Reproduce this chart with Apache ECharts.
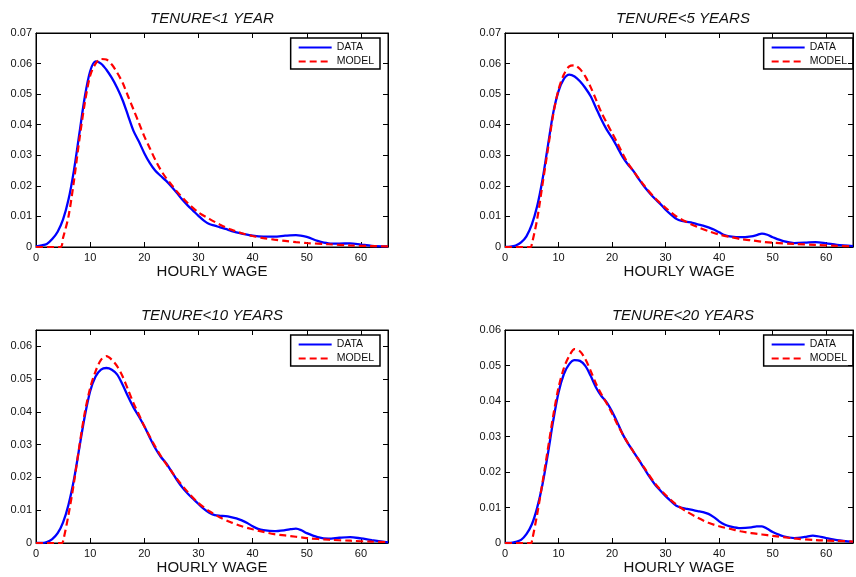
<!DOCTYPE html>
<html>
<head>
<meta charset="utf-8">
<script src="https://cdn.jsdelivr.net/npm/echarts@6/dist/echarts.min.js"></script>
<style>
  html, body { margin: 0; padding: 0; background: #fff; }
  #chart { width: 856px; height: 577px; }
</style>
</head>
<body>
<div id="chart"></div>
<script>
// panel titles
const titles = ['TENURE<1 YEAR', 'TENURE<5 YEARS', 'TENURE<10 YEARS', 'TENURE<20 YEARS'];
const yMax = [0.07, 0.07, 0.065, 0.06];

// [hourly wage, density]
const data1 = [[0,0.0002],[1,0.0005],[2,0.001],[3,0.0026],[4,0.005],[5,0.009],[6,0.0155],[7,0.025],[8,0.037],[9,0.049],[10,0.0575],[11,0.0607],[12,0.060],[13,0.058],[14,0.0553],[15,0.052],[16,0.048],[17,0.043],[18,0.038],[19,0.0345],[20,0.0307],[21,0.0275],[22,0.025],[23,0.0233],[24,0.0217],[25,0.0198],[26,0.0177],[27,0.0155],[28,0.0136],[29,0.0119],[30,0.0102],[31,0.0086],[32,0.0075],[33,0.007],[34,0.0064],[35,0.0059],[36,0.0053],[37,0.0048],[38,0.0044],[40,0.0037],[42,0.0034],[44,0.0034],[46,0.0037],[48,0.0039],[50,0.0033],[52,0.002],[54,0.0012],[56,0.0011],[58,0.0012],[60,0.0008],[62,0.0004],[65,0.0002]];
const model1 = [[0,0],[4.5,0],[5,0.003],[6,0.010],[7,0.0215],[8,0.035],[9,0.047],[10,0.056],[11,0.060],[12,0.0615],[13,0.0613],[14,0.0597],[15,0.057],[16,0.0537],[17,0.0493],[18,0.045],[19,0.0406],[20,0.0362],[21,0.0324],[22,0.0286],[23,0.0253],[24,0.0226],[25,0.0204],[26,0.0182],[28,0.0144],[30,0.0113],[32,0.0092],[34,0.0073],[36,0.0057],[38,0.0045],[40,0.0036],[42,0.0029],[44,0.0024],[46,0.002],[48,0.0016],[50,0.0013],[54,0.0009],[58,0.0005],[62,0.0003],[65,0.0002]];

const data2 = [[0,0],[1,0.0001],[2,0.0005],[3,0.0015],[4,0.0035],[5,0.0073],[6,0.0133],[7,0.022],[8,0.033],[9,0.0438],[10,0.051],[11,0.055],[12,0.0564],[13,0.0558],[14,0.0542],[15,0.052],[16,0.0493],[17,0.0455],[18,0.0417],[19,0.0384],[20,0.0357],[21,0.0326],[22,0.0294],[23,0.0269],[24,0.0248],[25,0.0222],[26,0.0198],[27,0.0177],[28,0.0158],[29,0.0141],[30,0.0122],[31,0.0106],[32,0.0092],[33,0.0085],[34,0.0082],[35,0.0079],[36,0.0074],[37,0.007],[38,0.0064],[39,0.0057],[40,0.0048],[41,0.0039],[42,0.0035],[44,0.0032],[46,0.0035],[47,0.0039],[48,0.0044],[49,0.004],[50,0.0032],[52,0.0019],[54,0.0013],[56,0.0014],[58,0.0016],[60,0.0012],[62,0.0007],[65,0.0003]];
const model2 = [[0,0],[4.8,0],[5,0.0008],[6,0.009],[7,0.0204],[8,0.0318],[9,0.0433],[10,0.0515],[11,0.0564],[12,0.0591],[13,0.0594],[14,0.0582],[15,0.0558],[16,0.0523],[17,0.0482],[18,0.044],[19,0.0406],[20,0.0373],[21,0.034],[22,0.0304],[23,0.0273],[24,0.0248],[25,0.0224],[26,0.0201],[28,0.016],[30,0.0128],[32,0.010],[34,0.0081],[36,0.0065],[38,0.0052],[40,0.0041],[42,0.0033],[44,0.0026],[46,0.0022],[48,0.0017],[50,0.0014],[54,0.001],[58,0.0007],[62,0.0004],[65,0.0002]];

const data3 = [[0,0],[1,0],[2,0.0003],[3,0.0012],[4,0.003],[5,0.0063],[6,0.0117],[7,0.0193],[8,0.029],[9,0.0386],[10,0.0463],[11,0.0508],[12,0.0529],[13,0.0534],[14,0.0529],[15,0.0514],[16,0.0483],[17,0.0447],[18,0.0414],[19,0.0386],[20,0.0356],[21,0.0322],[22,0.029],[23,0.0264],[24,0.0244],[25,0.0219],[26,0.0193],[27,0.017],[28,0.0151],[29,0.0135],[30,0.0119],[31,0.0104],[32,0.0092],[33,0.0085],[34,0.0083],[35,0.0082],[36,0.0079],[37,0.0075],[38,0.0069],[39,0.0061],[40,0.0051],[41,0.0043],[42,0.0039],[44,0.0036],[46,0.0039],[47,0.0042],[48,0.0044],[49,0.0039],[50,0.003],[52,0.0018],[54,0.0013],[56,0.0016],[58,0.0018],[60,0.0014],[62,0.0009],[65,0.0002]];
const model3 = [[0,0],[4.8,0],[5,0.0005],[6,0.0086],[7,0.0183],[8,0.0295],[9,0.0397],[10,0.0473],[11,0.0524],[12,0.0559],[13,0.057],[14,0.0559],[15,0.0539],[16,0.0508],[17,0.0468],[18,0.0427],[19,0.0392],[20,0.0356],[21,0.0325],[22,0.0295],[23,0.0267],[24,0.0242],[25,0.0219],[26,0.0196],[28,0.0156],[30,0.0122],[32,0.0097],[34,0.0078],[36,0.0063],[38,0.0051],[40,0.0042],[42,0.0034],[44,0.0027],[46,0.0023],[48,0.0019],[50,0.0015],[54,0.001],[58,0.0007],[62,0.0004],[65,0.0003]];

const data4 = [[0,0],[1,0],[2,0.0003],[3,0.0009],[4,0.0025],[5,0.0052],[6,0.0099],[7,0.0165],[8,0.025],[9,0.0344],[10,0.0424],[11,0.0476],[12,0.0504],[13,0.0515],[14,0.0513],[15,0.0499],[16,0.0471],[17,0.0438],[18,0.0414],[19,0.0396],[20,0.037],[21,0.0339],[22,0.0306],[23,0.028],[24,0.0257],[25,0.0234],[26,0.021],[27,0.0186],[28,0.0165],[29,0.0148],[30,0.0132],[31,0.0118],[32,0.0105],[33,0.0099],[34,0.0096],[35,0.0093],[36,0.009],[37,0.0087],[38,0.0082],[39,0.0073],[40,0.0061],[41,0.0052],[42,0.0047],[44,0.0042],[46,0.0044],[47,0.0047],[48,0.0047],[49,0.004],[50,0.0031],[52,0.0019],[54,0.0014],[56,0.0017],[57.5,0.0021],[60,0.0014],[62,0.0008],[65,0.0003]];
const model4 = [[0,0],[4.9,0],[5,0.0003],[6,0.008],[7,0.017],[8,0.0264],[9,0.0358],[10,0.0438],[11,0.0493],[12,0.0527],[13,0.0546],[14,0.054],[15,0.0518],[16,0.0485],[17,0.0449],[18,0.0419],[19,0.0393],[20,0.0365],[21,0.0334],[22,0.0306],[23,0.028],[24,0.0257],[25,0.0234],[26,0.0212],[28,0.0168],[30,0.0135],[32,0.0108],[34,0.0088],[36,0.0071],[38,0.0057],[40,0.0047],[42,0.004],[44,0.0033],[46,0.0028],[48,0.0024],[50,0.002],[54,0.0013],[58,0.0008],[62,0.0006],[65,0.0004]];

const dataSets = [data1, data2, data3, data4];
const modelSets = [model1, model2, model3, model4];

const FONT = 'Liberation Sans, Arial, sans-serif';
// plot boxes: left, top, width, height
const boxes = [
    { left: 36, top: 33, width: 352, height: 214 },
    { left: 505, top: 33, width: 356, height: 214 },
    { left: 36, top: 330, width: 352, height: 213 },
    { left: 505, top: 330, width: 356, height: 213 }
];

const yFmt = v => {
    const r = Math.round(v * 100);
    if (Math.abs(v * 100 - r) > 1e-6) return '';
    return r === 0 ? '0' : (r / 100).toFixed(2);
};
const xFmt = v => (v % 10 === 0 ? String(v) : '');

// matlab style box: ticks pointing in, on all four sides
const tick = () => ({ show: true, inside: true, length: 5, lineStyle: { color: '#000', width: 1 } });
const line = () => ({ show: true, onZero: false, lineStyle: { color: '#000', width: 1 } });

const grid = [], xAxis = [], yAxis = [], series = [], title = [], legend = [];

boxes.forEach((b, i) => {
    grid.push(Object.assign({ show: true, borderColor: '#000', borderWidth: 1, backgroundColor: 'transparent' }, b));
    title.push({
        text: titles[i],
        left: b.left + b.width / 2,
        textAlign: 'center',
        top: b.top - 22,
        padding: 0,
        textStyle: { fontFamily: FONT, fontSize: 15, fontStyle: 'italic', fontWeight: 'normal', color: '#111' }
    });
    legend.push({
        data: ['DATA', 'MODEL'],
        orient: 'vertical',
        right: 856 - (b.left + b.width) + 8,
        top: b.top + 5,
        borderColor: '#000',
        borderWidth: 1.5,
        padding: [4, 6, 2, 7],
        itemGap: 3,
        itemWidth: 33,
        itemHeight: 12,
        itemStyle: { opacity: 0 },
        textStyle: { fontFamily: FONT, fontSize: 10.5, color: '#111' }
    });
    const xBase = () => ({ type: 'value', gridIndex: i, min: 0, max: 65, interval: 10, splitLine: { show: false }, axisLine: line(), axisTick: tick() });
    xAxis.push(Object.assign(xBase(), {
        position: 'bottom',
        axisLabel: { formatter: xFmt, margin: 5, fontFamily: FONT, fontSize: 11, color: '#111' },
        name: 'HOURLY WAGE', nameLocation: 'middle', nameGap: 17,
        nameTextStyle: { fontFamily: FONT, fontSize: 15, color: '#111' }
    }));
    xAxis.push(Object.assign(xBase(), { position: 'top', axisLabel: { show: false } }));
    const yBase = () => ({ type: 'value', gridIndex: i, min: 0, max: yMax[i], interval: 0.01, splitLine: { show: false }, axisLine: line(), axisTick: tick() });
    yAxis.push(Object.assign(yBase(), {
        position: 'left',
        axisLabel: { formatter: yFmt, margin: 4, fontFamily: FONT, fontSize: 11, color: '#111' }
    }));
    yAxis.push(Object.assign(yBase(), { position: 'right', axisLabel: { show: false } }));

    series.push({
        name: 'DATA', type: 'line', xAxisIndex: 2 * i, yAxisIndex: 2 * i,
        data: dataSets[i], symbol: 'none', smooth: 0.3,
        lineStyle: { color: '#0000ff', width: 2.3 }, itemStyle: { color: '#0000ff' }, z: 2
    });
    series.push({
        name: 'MODEL', type: 'line', xAxisIndex: 2 * i, yAxisIndex: 2 * i,
        data: modelSets[i], symbol: 'none', smooth: 0.3,
        lineStyle: { color: '#ff0000', width: 2.2, type: [7, 4] }, itemStyle: { color: '#ff0000' }, z: 3
    });
});

const chart = echarts.init(document.getElementById('chart'), null, { renderer: 'canvas' });
chart.setOption({ animation: false, backgroundColor: '#fff', title, legend, grid, xAxis, yAxis, series });
</script>
</body>
</html>
